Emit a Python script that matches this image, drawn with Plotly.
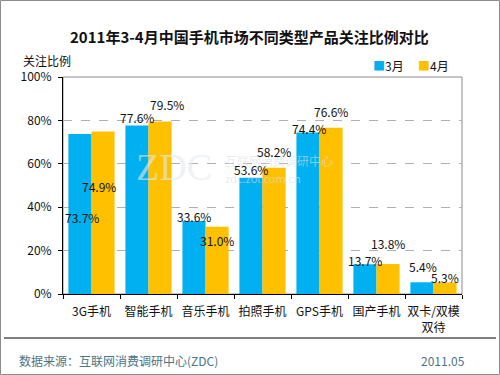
import plotly.graph_objects as go

categories = ["3G手机", "智能手机", "音乐手机", "拍照手机", "GPS手机", "国产手机", "双卡/双模<br>双待"]
series_names = ["3月", "4月"]
march = [73.7, 77.6, 33.6, 53.6, 74.4, 13.7, 5.4]
april = [74.9, 79.5, 31.0, 58.2, 76.6, 13.8, 5.3]
y_ticks = [0, 20, 40, 60, 80, 100]
y_tick_labels = ["0%", "20%", "40%", "60%", "80%", "100%"]

title = "2011年3-4月中国手机市场不同类型产品关注比例对比"
y_title = "关注比例"
source = "数据来源：互联网消费调研中心(ZDC)"
date = "2011.05"

# layout / styling
W, H = 500, 375
L, R, T, B = 63, 38, 77, 81
PW, PH = W - L - R, H - T - B
BLUE = "#00B0F0"
ORANGE = "#FFC000"
COLORS = [BLUE, ORANGE]
FONT = "Noto Sans CJK SC, Liberation Sans, sans-serif"

# label offsets (px) relative to bar top, to mimic the reference placement
label_yshift = [[-83, 8, 5, 8, 4, 4, 16], [-55, 17, -14, 16, 16, 21, 5]]
label_xshift = [[2, 0, 0, 0, 1, 0, 1], [-4, 7, 0, 0, 0, 0, 0]]
bar_half = 11.5
legend_x = [371, 416]


def px(x):
    return (x - L) / PW


def py(y):
    return (H - B - y) / PH


fig = go.Figure()
for name, vals, col in zip(series_names, [march, april], COLORS):
    fig.add_trace(go.Bar(x=categories, y=vals, name=name, marker=dict(color=col, line=dict(width=0)),
                         showlegend=False))

annotations = [
    # faint watermark (drawn first, behind labels)
    dict(text="ZDC", xref="paper", yref="paper", x=px(174), y=py(167), showarrow=False,
         font=dict(family="Liberation Serif, serif", size=38, color="rgba(228,234,240,0.6)"),
         xanchor="center", yanchor="middle"),
    dict(text="互联网消费调研中心", xref="paper", yref="paper", x=px(223), y=py(160), showarrow=False,
         font=dict(family=FONT, size=12, color="rgba(218,223,228,0.6)"), xanchor="left", yanchor="middle"),
    dict(text="zdc.zol.com.cn", xref="paper", yref="paper", x=px(223), y=py(178), showarrow=False,
         font=dict(family=FONT, size=11, color="rgba(218,223,228,0.6)"), xanchor="left", yanchor="middle"),
]
for si, vals in enumerate([march, april]):
    sign = -1 if si == 0 else 1
    for ci, v in enumerate(vals):
        annotations.append(dict(
            x=categories[ci], y=v, xref="x", yref="y", text=f"{v:.1f}%", showarrow=False,
            xshift=sign * bar_half + label_xshift[si][ci], yshift=label_yshift[si][ci],
            font=dict(family=FONT, size=12, color="#111111"), yanchor="middle", xanchor="center"))

# legend (square marker + text)
for name, col, lx in zip(series_names, COLORS, legend_x):
    annotations.append(dict(
        text=f"<span style='color:{col}'>■</span>{name}", xref="paper", yref="paper",
        x=px(lx), y=py(65), showarrow=False, xanchor="left", yanchor="middle",
        font=dict(family=FONT, size=12, color="#111111")))

# title, axis title, footer
annotations += [
    dict(text=f"<b>{title}</b>", xref="paper", yref="paper", x=px(249), y=py(36), showarrow=False,
         font=dict(family=FONT, size=15, color="#111111"), xanchor="center", yanchor="middle"),
    dict(text=y_title, xref="paper", yref="paper", x=px(21), y=py(60), showarrow=False,
         font=dict(family=FONT, size=12, color="#111111"), xanchor="left", yanchor="middle"),
    dict(text=source, xref="paper", yref="paper", x=px(17), y=py(360), showarrow=False,
         font=dict(family=FONT, size=12, color="#4a7585"), xanchor="left", yanchor="middle"),
    dict(text=date, xref="paper", yref="paper", x=px(467), y=py(360), showarrow=False,
         font=dict(family=FONT, size=12, color="#4a7585"), xanchor="right", yanchor="middle"),
]

shapes = [
    # outer border
    dict(type="rect", xref="paper", yref="paper", x0=px(0.5), x1=px(499.5), y0=py(374.5), y1=py(0.5),
         line=dict(color="#8c8c8c", width=1), layer="below"),
    # plot area frame (top/right grey)
    dict(type="rect", xref="paper", yref="paper", x0=0, x1=1, y0=0, y1=1,
         line=dict(color="#8c8c8c", width=1), layer="below"),
    # footer separator
    dict(type="line", xref="paper", yref="paper", x0=px(4), x1=px(496), y0=py(338), y1=py(338),
         line=dict(color="#000000", width=1)),
]

fig.update_layout(
    width=W, height=H,
    margin=dict(l=L, r=R, t=T, b=B, pad=0, autoexpand=False),
    paper_bgcolor="white", plot_bgcolor="white",
    barmode="group", bargap=0.19, bargroupgap=0,
    font=dict(family=FONT, size=12, color="#111111"),
    showlegend=False,
    annotations=annotations,
    shapes=shapes,
)
fig.update_xaxes(showline=True, linecolor="#000000", linewidth=1, ticks="outside", ticklen=4,
                 tickcolor="#000000", tickson="boundaries", showgrid=False, tickangle=0,
                 ticklabelstandoff=7, automargin=False,
                 tickfont=dict(family=FONT, size=12, color="#111111"), mirror=False)
fig.update_yaxes(range=[0, 100], tickvals=y_ticks, ticktext=y_tick_labels, showline=True,
                 linecolor="#000000", linewidth=1, ticks="outside", ticklen=4, tickcolor="#000000",
                 showgrid=True, gridcolor="#b0b0b0", griddash="dash", gridwidth=1, automargin=False,
                 ticklabelstandoff=4,
                 tickfont=dict(family=FONT, size=12, color="#111111"), zeroline=False, fixedrange=True)

fig.write_html("out.html", post_script="document.body.style.margin='0';document.body.style.padding='0';",
               config={"displayModeBar": False})
